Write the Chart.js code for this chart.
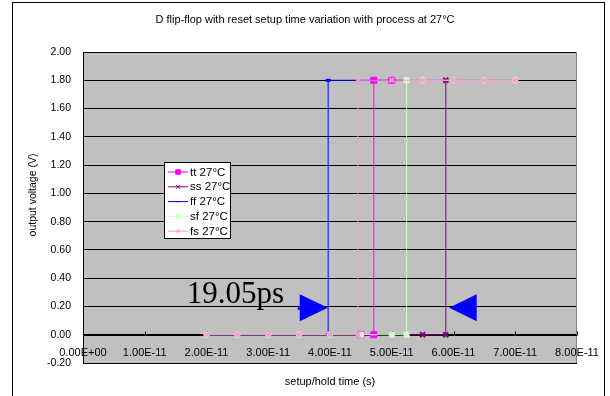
<!DOCTYPE html>
<html>
<head>
<meta charset="utf-8">
<script src="https://cdn.jsdelivr.net/npm/chart.js@4/dist/chart.umd.min.js"></script>
<style>
  body { margin: 0; background: #fff; }
  #wrap { width: 610px; height: 396px; }
</style>
</head>
<body>
<div id="wrap"><canvas id="chart" width="610" height="396"></canvas></div>
<script>
// setup/hold time (s) and output voltage (V) per process corner
const seriesNames = ['tt 27\u00B0C', 'ss 27\u00B0C', 'ff 27\u00B0C', 'sf 27\u00B0C', 'fs 27\u00B0C'];

const ttTime = [4.5e-11, 4.71e-11, 4.71e-11, 5.0e-11];
const ttVolt = [0, 0, 1.8, 1.8];
const ssTime = [5.0e-11, 5.5e-11, 5.875e-11, 5.875e-11, 6.0e-11];
const ssVolt = [0, 0, 0, 1.8, 1.8];
const ffTime = [2.0e-11, 2.5e-11, 3.0e-11, 3.5e-11, 3.97e-11, 3.97e-11, 5.0e-11, 5.5e-11, 6.0e-11, 6.5e-11, 7.0e-11];
const ffVolt = [0, 0, 0, 0, 0, 1.8, 1.8, 1.8, 1.8, 1.8, 1.8];
const sfTime = [2.0e-11, 2.5e-11, 3.0e-11, 3.5e-11, 4.0e-11, 4.5e-11, 5.0e-11, 5.24e-11, 5.24e-11, 5.5e-11, 6.0e-11, 6.5e-11, 7.0e-11];
const sfVolt = [0, 0, 0, 0, 0, 0, 0, 0, 1.8, 1.8, 1.8, 1.8, 1.8];
const fsTime = [2.0e-11, 2.5e-11, 3.0e-11, 3.5e-11, 4.0e-11, 4.45e-11, 4.45e-11, 5.0e-11, 5.5e-11, 6.0e-11, 6.5e-11, 7.0e-11];
const fsVolt = [0, 0, 0, 0, 0, 0, 1.8, 1.8, 1.8, 1.8, 1.8, 1.8];

const xTicks = [0, 1e-11, 2e-11, 3e-11, 4e-11, 5e-11, 6e-11, 7e-11, 8e-11];

// annotation: arrows pointing at ff and ss edges, and the gap label
const arrowTip = [3.965e-11, 5.93e-11];
const arrowBase = [3.51e-11, 6.375e-11];
const arrowVolt = 0.19;
const gapLabel = '19.05ps';
const gapLabelAt = [1.68e-11, 0.227];

const chartTitle = 'D flip-flop with reset setup time variation with process at 27\u00B0C';
const FONT = '"Liberation Sans", Arial, sans-serif';

function pairs(xs, ys) {
  return xs.map(function (x, i) { return { x: x, y: ys[i] }; });
}

function fmtExp(v) {
  if (v === 0) return '0.00E+00';
  const e = Math.floor(Math.log10(Math.abs(v)) + 1e-9);
  const m = v / Math.pow(10, e);
  const sign = e < 0 ? '-' : '+';
  const ex = Math.abs(e) < 10 ? '0' + Math.abs(e) : '' + Math.abs(e);
  return m.toFixed(2) + 'E' + sign + ex;
}

const plotDecor = {
  id: 'plotDecor',
  beforeDraw(chart) {
    const ctx = chart.ctx, a = chart.chartArea;
    ctx.save();
    ctx.fillStyle = '#fff';
    ctx.fillRect(0, 0, chart.width, chart.height);
    ctx.strokeStyle = '#000';
    ctx.lineWidth = 1;
    ctx.strokeRect(12.5, 2.5, 592, 430);
    ctx.fillStyle = '#c0c0c0';
    ctx.fillRect(a.left, a.top, a.right - a.left, a.bottom - a.top);
    ctx.fillStyle = '#000';
    ctx.font = '11px ' + FONT;
    ctx.textAlign = 'center';
    ctx.textBaseline = 'middle';
    ctx.fillText(chartTitle, 305, 20);
    ctx.restore();
  },
  beforeDatasetsDraw(chart) {
    const ctx = chart.ctx, a = chart.chartArea;
    const xs = chart.scales.x, ys = chart.scales.y;
    const y0 = Math.round(ys.getPixelForValue(0)) + 0.5;
    ctx.save();
    ctx.strokeStyle = '#808080';
    ctx.beginPath();
    ctx.moveTo(a.right - 0.5, a.top);
    ctx.lineTo(a.right - 0.5, a.bottom);
    ctx.stroke();
    ctx.strokeStyle = '#000';
    ctx.beginPath();
    ctx.moveTo(a.left, y0);
    ctx.lineTo(a.right, y0);
    xTicks.forEach(function (v) {
      const px = Math.round(xs.getPixelForValue(v)) + 0.5;
      ctx.moveTo(px, y0 - 4);
      ctx.lineTo(px, y0);
    });
    ctx.stroke();
    ctx.fillStyle = '#000';
    ctx.font = '11px ' + FONT;
    ctx.textAlign = 'center';
    ctx.textBaseline = 'middle';
    xTicks.forEach(function (v) {
      ctx.fillText(fmtExp(v), xs.getPixelForValue(v), y0 + 17);
    });
    ctx.restore();
  },
  afterDraw(chart) {
    const ctx = chart.ctx, a = chart.chartArea;
    const xs = chart.scales.x, ys = chart.scales.y;
    ctx.save();

    // axis titles
    ctx.fillStyle = '#000';
    ctx.font = '11px ' + FONT;
    ctx.textAlign = 'center';
    ctx.textBaseline = 'middle';
    ctx.fillText('setup/hold time (s)', (a.left + a.right) / 2, 382);
    ctx.save();
    ctx.translate(33, 195);
    ctx.rotate(-Math.PI / 2);
    ctx.font = '10.5px ' + FONT;
    ctx.fillText('output voltage (V)', 0, 0);
    ctx.restore();

    // arrows
    const yc = ys.getPixelForValue(arrowVolt);
    const half = 13.5;
    ctx.fillStyle = '#0000ff';
    arrowTip.forEach(function (tip, i) {
      const tx = xs.getPixelForValue(tip), bx = xs.getPixelForValue(arrowBase[i]);
      ctx.beginPath();
      ctx.moveTo(tx, yc);
      ctx.lineTo(bx, yc - half);
      ctx.lineTo(bx, yc + half);
      ctx.closePath();
      ctx.fill();
    });
    const stub = xs.getPixelForValue(arrowBase[0]);
    ctx.fillRect(stub - 2, yc - 2, 2, 4);

    ctx.font = '31px "Liberation Serif", "Times New Roman", serif';
    ctx.textAlign = 'left';
    ctx.textBaseline = 'alphabetic';
    ctx.fillStyle = '#000';
    ctx.fillText(gapLabel, xs.getPixelForValue(gapLabelAt[0]), ys.getPixelForValue(gapLabelAt[1]));

    // legend box
    const lx = 164.5, ly = 162.5, lw = 66, lh = 76;
    ctx.fillStyle = '#fff';
    ctx.fillRect(lx, ly, lw, lh);
    ctx.strokeStyle = '#000';
    ctx.lineWidth = 1;
    ctx.strokeRect(lx, ly, lw, lh);
    ctx.font = '11.5px ' + FONT;
    ctx.textBaseline = 'middle';
    chart.data.datasets.forEach(function (ds, i) {
      const ry = 172 + i * 14.8;
      ctx.strokeStyle = ds.borderColor;
      ctx.lineWidth = 1;
      ctx.beginPath();
      ctx.moveTo(168, ry);
      ctx.lineTo(188, ry);
      ctx.stroke();
      ctx.fillStyle = ds.pointBackgroundColor;
      ctx.strokeStyle = ds.pointBorderColor;
      Chart.helpers.drawPoint(ctx, {
        pointStyle: ds.pointStyle, rotation: 0,
        radius: ds.pointRadius * 0.75, borderWidth: ds.pointBorderWidth * 0.75
      }, 178, ry);
      ctx.fillStyle = '#000';
      ctx.fillText(ds.label, 190, ry + 0.5);
    });
    ctx.restore();
  }
};

function makeSeries(label, xs, ys, color, markColor, style, radius, bw, order) {
  return {
    label: label,
    data: pairs(xs, ys),
    showLine: true,
    borderColor: color,
    borderWidth: 1,
    pointStyle: style,
    pointRadius: radius,
    pointHoverRadius: radius,
    pointBorderWidth: bw,
    pointBackgroundColor: markColor,
    pointBorderColor: markColor,
    order: order
  };
}

function addChart() {
  const ctx = document.getElementById('chart');
  new Chart(ctx, {
    type: 'scatter',
    data: {
      datasets: [
        makeSeries(seriesNames[0], ttTime, ttVolt, '#ff00ff', '#ff00ff', 'rect', 4.3, 1, 5),
        makeSeries(seriesNames[1], ssTime, ssVolt, '#800080', '#800080', 'crossRot', 3.5, 2, 4),
        makeSeries(seriesNames[2], ffTime, ffVolt, '#0000ff', '#0000ff', 'line', 2.5, 3, 3),
        makeSeries(seriesNames[3], sfTime, sfVolt, '#ccffcc', '#ccffcc', 'rect', 3.6, 1, 2),
        makeSeries(seriesNames[4], fsTime, fsVolt, '#ff99cc', '#ff99cc', 'crossRot', 3.5, 2, 1)
      ]
    },
    options: {
      responsive: false,
      animation: false,
      layout: { padding: { left: 0, right: 33, top: 52, bottom: 33 } },
      plugins: {
        legend: { display: false },
        tooltip: { enabled: false },
        title: { display: false }
      },
      scales: {
        x: { type: 'linear', min: 0, max: 8e-11, display: false },
        y: {
          min: -0.2,
          max: 2.0,
          afterFit: function (scale) { scale.width = 83; },
          ticks: {
            stepSize: 0.2,
            padding: 12,
            color: '#000',
            font: { family: FONT, size: 10.5 },
            callback: function (v) { return v.toFixed(2); }
          },
          grid: { color: '#000', lineWidth: 1, drawTicks: false },
          border: { color: '#000', width: 1 }
        }
      }
    },
    plugins: [plotDecor]
  });
}

addChart();
</script>
</body>
</html>
